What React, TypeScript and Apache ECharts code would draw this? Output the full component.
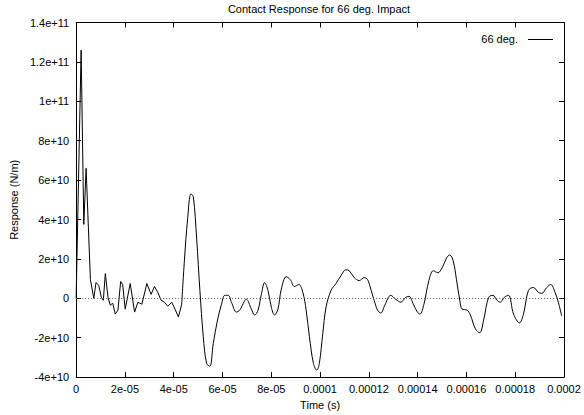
import React, { useEffect, useRef } from "react";
import * as echarts from "echarts";

// Time in microseconds, response in units of 1e10 N/m
const earlyTime = [0, 2.04, 3.14, 4.08, 5.84, 7.22, 8.16, 9.27, 10.33, 11.14, 11.96, 13.06, 14.0, 14.98, 16.04, 17.14, 18.24, 19.06, 20.12, 22.16, 23.96, 25.31, 26.94, 28.98, 30.73, 32.12, 33.47, 34.82, 36.2, 37.55, 39.18, 40.53, 41.92, 43.27];
const earlyValue = [0, 12.6, 3.75, 6.6, 0.95, 0, 0.8, 0.65, 0.05, -0.1, 1.25, 0.05, -0.35, -0.25, -0.8, -0.6, 0.85, 0.7, -0.55, 0.75, -0.7, -0.2, -0.3, 0.75, 0.2, 0.6, 0.3, -0.1, -0.2, -0.4, -0.2, -0.55, -0.95, -0.3];

const lateTime = [43.27, 44.37, 45.71, 47.06, 48.04, 49.39, 50.73, 52.12, 53.47, 54.82, 56.2, 57.96, 59.59, 60.94, 62.33, 63.67, 65.71, 67.06, 69.8, 71.84, 73.18, 74.57, 75.92, 77.27, 78.65, 80.0, 81.35, 82.73, 84.08, 86.12, 87.76, 89.51, 91.31, 92.94, 94.29, 95.63, 97.27, 98.65, 99.71, 101.1, 102.45, 104.49, 106.53, 108.57, 110.61, 111.96, 114.0, 116.04, 118.08, 119.47, 120.82, 122.16, 123.55, 124.9, 126.53, 128.98, 131.02, 133.06, 135.1, 136.45, 138.24, 139.88, 140.94, 142.57, 144.61, 146.41, 148.29, 150.08, 151.84, 153.18, 154.57, 155.92, 157.27, 158.24, 160.29, 161.63, 163.67, 165.43, 167.06, 169.1, 170.9, 172.53, 173.88, 175.51, 177.27, 179.31, 181.76, 183.39, 185.43, 187.47, 189.51, 190.9, 192.94, 194.57, 196.33, 197.67, 199.06];
const lateValue = [-0.3, 1.9, 4.05, 5.3, 5.15, 3.05, 0.4, -1.95, -3.3, -3.45, -2.3, -1.1, -0.3, 0.15, 0.15, -0.2, -0.7, -0.6, -0.05, -0.55, -0.85, -0.6, 0.2, 0.8, 0.4, -0.45, -0.85, -0.55, 0.45, 1.1, 0.95, 0.6, 0.7, 0.3, -0.6, -1.95, -3.3, -3.65, -3.3, -1.8, -0.45, 0.4, 0.75, 1.15, 1.45, 1.4, 1.05, 0.9, 1.05, 0.95, 0.45, -0.1, -0.6, -0.75, -0.35, 0.15, -0.05, -0.2, 0.05, 0.1, -0.3, -0.7, -0.8, -0.3, 0.9, 1.4, 1.3, 1.55, 2.05, 2.2, 1.9, 0.95, -0.1, -0.55, -0.6, -0.85, -1.55, -1.75, -1.1, 0.05, 0.15, -0.1, -0.2, 0.05, 0.15, -0.8, -1.25, -0.8, 0.4, 0.55, 0.3, 0.25, 0.55, 0.7, 0.3, -0.2, -0.9];

const xTickLabels = ["0", "2e-05", "4e-05", "6e-05", "8e-05", "0.0001", "0.00012", "0.00014", "0.00016", "0.00018", "0.0002"];
const yTickLabels = ["-4e+10", "-2e+10", "0", "2e+10", "4e+10", "6e+10", "8e+10", "1e+11", "1.2e+11", "1.4e+11"];

const seriesName = "66 deg.";
const FONT = "Liberation Sans, Arial, Helvetica, sans-serif";

export default function App() {
  const ref = useRef<HTMLDivElement>(null);
  useEffect(() => {
    if (!ref.current) return;
    const chart = echarts.init(ref.current, null, { renderer: "svg" });
    const early = earlyTime.map((t, i) => [t, earlyValue[i]]);
    const late = lateTime.map((t, i) => [t, lateValue[i]]);
    const tickCommon = { show: true, inside: true, length: 5, lineStyle: { color: "#000", width: 1 } };
    const lineCommon = { show: true, onZero: false, lineStyle: { color: "#000", width: 1 } };
    chart.setOption({
      animation: false,
      title: {
        text: "Contact Response for 66 deg. Impact",
        left: 319,
        textAlign: "center",
        top: 3,
        padding: 0,
        textStyle: { fontFamily: FONT, fontSize: 11, fontWeight: "normal", color: "#000" },
      },
      grid: { left: 74, right: 20, top: 22.5, bottom: 34.5, containLabel: false },
      xAxis: [
        {
          type: "value",
          min: 0,
          max: 200,
          interval: 20,
          position: "bottom",
          name: "Time (s)",
          nameLocation: "middle",
          nameGap: 15,
          nameTextStyle: { fontFamily: FONT, fontSize: 11, color: "#000" },
          axisLine: lineCommon,
          axisTick: tickCommon,
          splitLine: { show: false },
          axisLabel: {
            fontFamily: FONT,
            fontSize: 11,
            color: "#000",
            margin: 6,
            formatter: (v: number) => xTickLabels[Math.round(v / 20)] ?? "",
          },
        },
        {
          type: "value",
          min: 0,
          max: 200,
          interval: 20,
          position: "top",
          axisLine: lineCommon,
          axisTick: tickCommon,
          splitLine: { show: false },
          axisLabel: { show: false },
        },
      ],
      yAxis: [
        {
          type: "value",
          min: -4,
          max: 14,
          interval: 2,
          position: "left",
          name: "Response (N/m)",
          nameLocation: "middle",
          nameGap: 51,
          nameTextStyle: { fontFamily: FONT, fontSize: 11, color: "#000" },
          axisLine: lineCommon,
          axisTick: tickCommon,
          splitLine: { show: false },
          axisLabel: {
            fontFamily: FONT,
            fontSize: 11,
            color: "#000",
            margin: 7,
            formatter: (v: number) => yTickLabels[Math.round((v + 4) / 2)] ?? "",
          },
        },
        {
          type: "value",
          min: -4,
          max: 14,
          interval: 2,
          position: "right",
          axisLine: lineCommon,
          axisTick: tickCommon,
          splitLine: { show: false },
          axisLabel: { show: false },
        },
      ],
      graphic: [
        {
          type: "text",
          right: 584 - 518,
          top: 33,
          style: { text: seriesName, fontFamily: FONT, fontSize: 11, fill: "#000", textAlign: "right" },
        },
        {
          type: "line",
          shape: { x1: 528, y1: 39.5, x2: 553, y2: 39.5 },
          style: { stroke: "#000", lineWidth: 1 },
        },
      ],
      series: [
        {
          name: seriesName,
          type: "line",
          data: early,
          xAxisIndex: 0,
          yAxisIndex: 0,
          showSymbol: false,
          symbol: "none",
          lineStyle: { color: "#000", width: 1 },
          markLine: {
            silent: true,
            symbol: "none",
            label: { show: false },
            lineStyle: { color: "#555", type: [1, 2], width: 1 },
            data: [{ yAxis: 0 }],
          },
        },
        {
          name: seriesName + " (cont.)",
          type: "line",
          data: late,
          xAxisIndex: 0,
          yAxisIndex: 0,
          showSymbol: false,
          symbol: "none",
          smooth: 0.35,
          lineStyle: { color: "#000", width: 1 },
        },
      ],
    });
    return () => chart.dispose();
  }, []);
  return <div ref={ref} style={{ width: 584, height: 415, position: "absolute", left: 0, top: 0 }} />;
}
